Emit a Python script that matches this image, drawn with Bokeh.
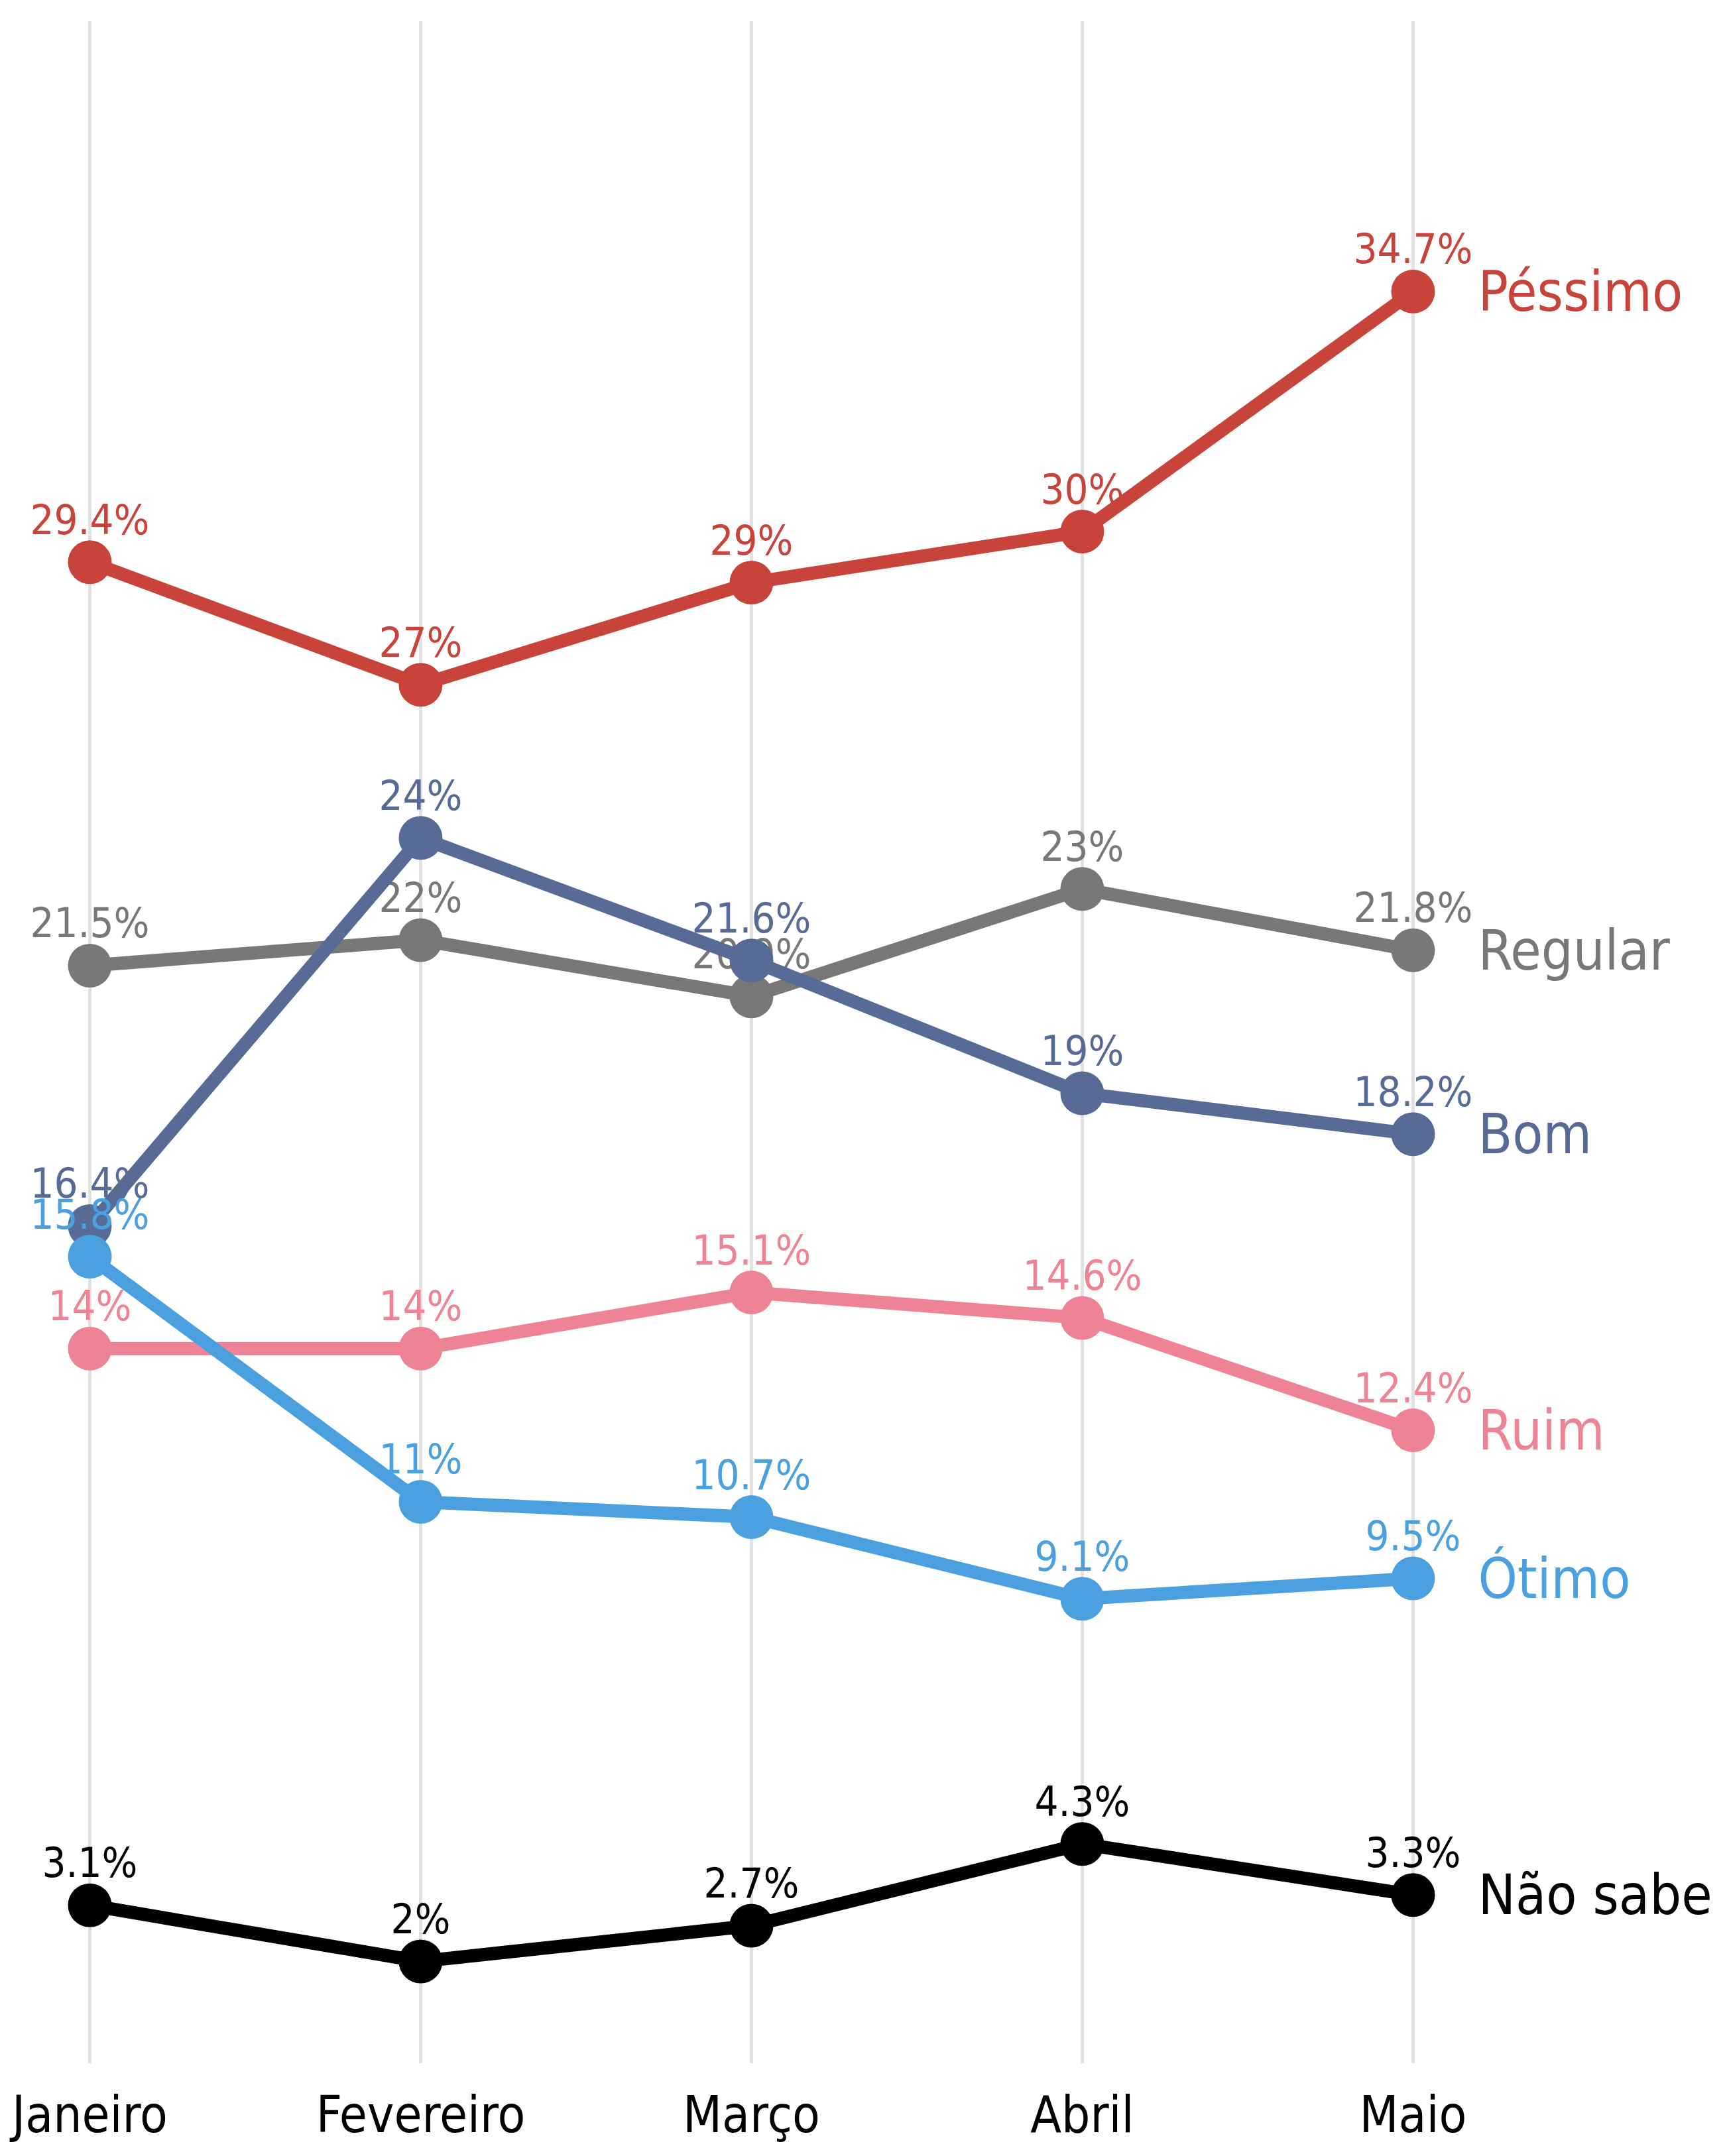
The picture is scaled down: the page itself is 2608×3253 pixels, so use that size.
from bokeh.plotting import figure
from bokeh.models import ColumnDataSource, FixedTicker, Range1d
from bokeh.core.properties import value
from bokeh.embed import file_html
from bokeh.resources import INLINE

months = ["Janeiro", "Fevereiro", "Março", "Abril", "Maio"]
series_names = ["Péssimo", "Regular", "Bom", "Ruim", "Ótimo", "Não sabe"]
pessimo = [29.4, 27, 29, 30, 34.7]
regular = [21.5, 22, 20.9, 23, 21.8]
bom = [16.4, 24, 21.6, 19, 18.2]
ruim = [14, 14, 15.1, 14.6, 12.4]
otimo = [15.8, 11, 10.7, 9.1, 9.5]
nao_sabe = [3.1, 2, 2.7, 4.3, 3.3]
colors = ["#c8443a", "#787878", "#586a96", "#ef8396", "#4ba0e0", "#000000"]
all_values = [pessimo, regular, bom, ruim, otimo, nao_sabe]

FONT = "'DejaVu Sans Condensed', Roboto, sans-serif"

W, H = 2592, 3237
p = figure(width=W, height=H, output_backend="svg", toolbar_location=None,
           x_range=Range1d(-0.2705, 4.924), y_range=Range1d(0, 40),
           min_border_left=0, min_border_right=0, min_border_top=31,
           min_border_bottom=122)
p.outline_line_color = None
p.yaxis.visible = False
p.ygrid.visible = False
p.background_fill_color = "white"
p.border_fill_color = "white"

xs = list(range(len(months)))
p.xaxis.ticker = FixedTicker(ticks=xs)
p.xaxis.major_label_overrides = {i: m for i, m in enumerate(months)}
p.xaxis.axis_line_color = None
p.xaxis.major_tick_line_color = None
p.xaxis.minor_tick_line_color = None
p.xaxis.major_tick_out = 0
p.xaxis.major_tick_in = 0
p.xaxis.major_label_standoff = 32
p.xaxis.major_label_text_font = FONT
p.xaxis.major_label_text_font_size = "76px"
p.xaxis.major_label_text_color = "#000000"
p.xgrid.ticker = FixedTicker(ticks=xs)
p.xgrid.grid_line_color = "#e2e2e2"
p.xgrid.grid_line_width = 5

for name, vals, col in zip(series_names, all_values, colors):
    src = ColumnDataSource(dict(x=xs, y=vals,
                                lbl=[(f"{v:g}%") for v in vals]))
    p.line("x", "y", source=src, line_color=col, line_width=20)
    p.scatter("x", "y", source=src, size=66, fill_color=col, line_color=None)
    p.text("x", "y", text="lbl", source=src, text_color=col,
           text_font=value(FONT), text_font_size="63px",
           text_align="center", text_baseline="alphabetic", y_offset=-64)
    end = ColumnDataSource(dict(x=[xs[-1]], y=[vals[-1]], t=[name]))
    p.text("x", "y", text="t", source=end, text_color=col,
           text_font=value(FONT), text_font_size="84px",
           text_align="left", text_baseline="middle", x_offset=98)

open("out.html", "w").write(file_html(p, INLINE))
